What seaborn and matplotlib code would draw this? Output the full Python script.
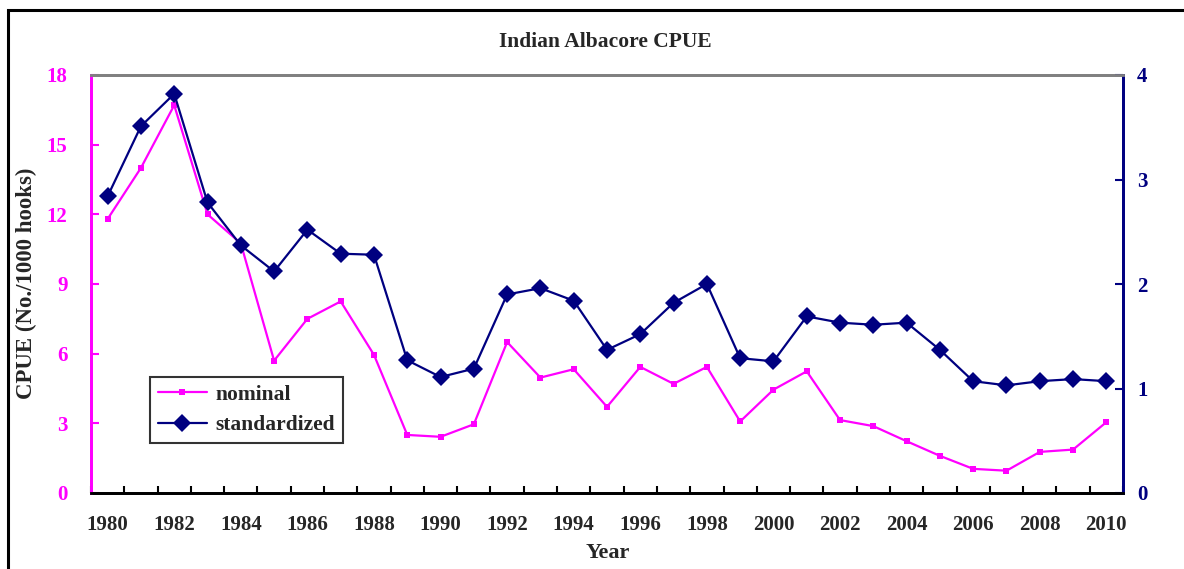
import numpy as np
import pandas as pd
import matplotlib
matplotlib.use("Agg")
import matplotlib.pyplot as plt
import seaborn as sns
from matplotlib.patches import Rectangle
from matplotlib.lines import Line2D

years = list(range(1980, 2011))
nominal = [11.8, 14.0, 16.7, 12.0, 10.75, 5.7, 7.5, 8.25, 5.95, 2.5, 2.42, 2.96,
           6.5, 4.97, 5.33, 3.71, 5.43, 4.7, 5.43, 3.08, 4.45, 5.24, 3.14, 2.88,
           2.23, 1.6, 1.04, 0.96, 1.77, 1.87, 3.05]
standardized = [2.84, 3.51, 3.82, 2.78, 2.37, 2.12, 2.52, 2.29, 2.28, 1.27, 1.11, 1.19,
                1.90, 1.96, 1.84, 1.37, 1.52, 1.82, 2.00, 1.29, 1.26, 1.69, 1.63, 1.61,
                1.63, 1.37, 1.07, 1.03, 1.07, 1.09, 1.07]
left_ticks = [0, 3, 6, 9, 12, 15, 18]
right_ticks = [0, 1, 2, 3, 4]
label_years = list(range(1980, 2011, 2))

df = pd.DataFrame({"Year": years, "nominal": nominal, "standardized": standardized})

sns.set_theme(style="white")
plt.rcParams['font.family'] = ['Liberation Serif', 'DejaVu Serif']
plt.rcParams['font.weight'] = 'bold'

MAG = "#FF00FF"
NAVY = "#000080"

W, H = 1184, 569
fig = plt.figure(figsize=(W / 100, H / 100), dpi=100)
ax = fig.add_axes([91 / W, 1 - 493 / H, (1123 - 91) / W, (493 - 75) / H])
ax2 = ax.twinx()

sns.lineplot(data=df, x="Year", y="nominal", ax=ax, color=MAG, lw=1.6,
             marker="s", markersize=4.5, markeredgewidth=0, legend=False)
sns.lineplot(data=df, x="Year", y="standardized", ax=ax2, color=NAVY, lw=1.6,
             marker="D", markersize=9, markeredgewidth=0, legend=False)

ax.set_xlim(1979.5, 2010.5)
ax.set_ylim(0, 18)
ax2.set_ylim(0, 4)
ax.set_yticks(left_ticks)
ax2.set_yticks(right_ticks)
ax.set_xticks(label_years)
ax.set_xticks(np.arange(1979.5, 2011, 1), minor=True)
ax.tick_params(axis="x", which="major", length=0, pad=16, labelsize=15)
ax.tick_params(axis="x", which="minor", direction="in", length=5, width=1.5, color="black", bottom=True)
ax.tick_params(axis="y", direction="in", length=6, width=1.5, colors=MAG, labelsize=15, pad=17, left=True)
ax2.tick_params(axis="y", direction="in", length=6, width=1.5, colors=NAVY, labelsize=15, pad=10, right=True)
for lab in ax.get_xticklabels() + ax.get_yticklabels() + ax2.get_yticklabels():
    lab.set_fontweight("bold")

for a in (ax, ax2):
    a.spines["left"].set_color(MAG)
    a.spines["right"].set_color(NAVY)
    a.spines["bottom"].set_color("black")
    a.spines["top"].set_color("#808080")
    for s in a.spines.values():
        s.set_linewidth(2)
        s.set_visible(True)
ax.grid(False)
ax2.grid(False)
ax.set_ylabel("")
ax2.set_ylabel("")
ax.set_xlabel("")

fig.text(605 / W, 1 - 42 / H, "Indian Albacore CPUE", ha="center", va="center",
         fontsize=15.5, fontweight="bold")
fig.text(608 / W, 1 - 553 / H, "Year", ha="center", va="center",
         fontsize=16, fontweight="bold")
fig.text(26 / W, 1 - 283 / H, "CPUE (No./1000 hooks)", ha="center", va="center",
         rotation=90, fontsize=16.5, fontweight="bold")

handles = [Line2D([], [], color=MAG, lw=1.6, marker="s", markersize=4.5, markeredgewidth=0),
           Line2D([], [], color=NAVY, lw=1.6, marker="D", markersize=9, markeredgewidth=0)]
leg = ax.legend(handles, ["nominal", "standardized"], loc="lower left",
                bbox_to_anchor=((150 - 91) / (1123 - 91), (493 - 443) / (493 - 75)),
                frameon=True, fancybox=False, prop={"weight": "bold", "size": 15.5},
                handlelength=2.3, borderpad=0.35, labelspacing=0.5, handletextpad=0.4,
                borderaxespad=0)
leg.get_frame().set_edgecolor("black")
leg.get_frame().set_linewidth(1.5)

fig.patches.append(Rectangle((8 / W, -0.1), 1.2, 1.1 - 10 / H, transform=fig.transFigure,
                             fill=False, edgecolor="black", linewidth=2.2))

fig.savefig("out.png", dpi=100)
